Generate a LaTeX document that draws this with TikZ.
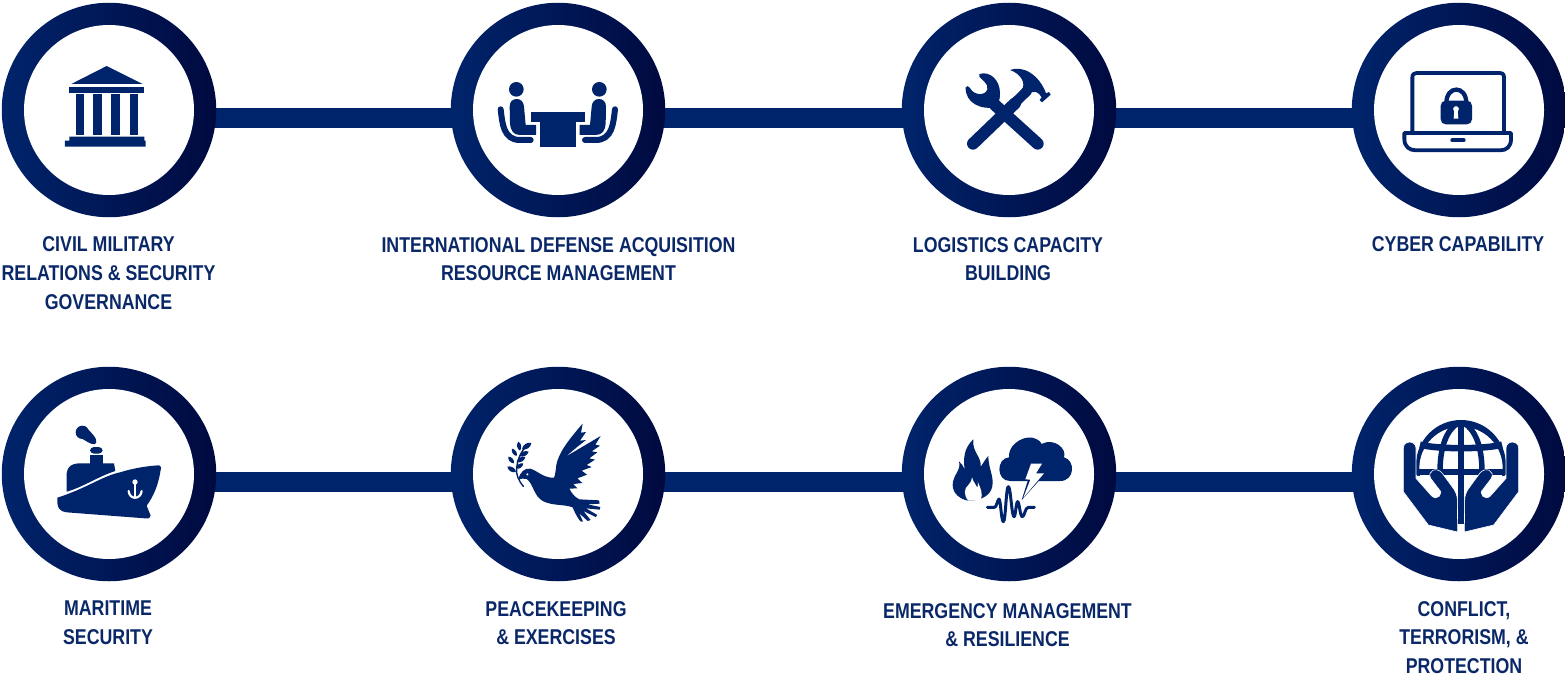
\documentclass[tikz,border=0pt]{standalone}
\usepackage{fontspec}
\setmainfont[FakeStretch=0.83,BoldFont={Liberation Sans Bold}]{Liberation Sans}
\usetikzlibrary{backgrounds,calc}
\definecolor{navy}{HTML}{00246B}
\definecolor{navydark}{HTML}{000A40}
\definecolor{labelnavy}{HTML}{0A2868}
\tikzset{
  ringouter/.style={circle,inner sep=0pt,minimum size=214.5pt,left color=navy,right color=navydark},
  ringinner/.style={circle,inner sep=0pt,minimum size=170pt,fill=white},
  link/.style={draw=navy,line width=19.5pt,shorten <=-4pt,shorten >=-4pt},
  lbl/.style={text=labelnavy,align=center,inner sep=0pt,font=\fontsize{21.4}{28.7}\selectfont\bfseries},
  stroke navy/.style={draw=navy,fill=none,line cap=round,line join=round},
  icon/.style={shift={#1},scale=1/3}
}
\newcommand{\leaflens}[4]{\fill[navy] (#1,#2) to[bend left=50] (#3,#4) to[bend left=50] (#1,#2) -- cycle;}
\begin{document}
\begin{tikzpicture}[x=1pt,y=-1pt]
\useasboundingbox (0,0) rectangle (1565,677);
% rings
\foreach \n/\px/\py in {a/109/110,b/558/110,c/1009/110,d/1459/110,e/109/474,f/558/474,g/1009/474,h/1459/474}{
  \node[ringouter] (\n) at (\px,\py) {};
  \node[ringinner] (\n i) at (\px,\py) {};
}
% connectors
\begin{scope}[on background layer]
\foreach \u/\v in {a/b,b/c,c/d,e/f,f/g,g/h}{
  \draw[link] ([yshift=-8pt]\u.east) -- ([yshift=-8pt]\v.west);
}
\end{scope}
% temple
\begin{scope}[icon={(0,0)}]
\fill[navy] (214,252) -- (320,198) -- (428,252) -- cycle;
\fill[navy] (208,262) rectangle (433,280);
\fill[navy] (228,283) rectangle (253,405);
\fill[navy] (278,283) rectangle (306,405);
\fill[navy] (332,283) rectangle (359,405);
\fill[navy] (389,283) rectangle (413,405);
\fill[navy] (208,410) -- (433,410) -- (433,422) -- (437,422) -- (437,440) -- (195,440) -- (195,422) -- (208,422) -- cycle;
\end{scope}
% meeting
\begin{scope}[icon={(470,60)}]
\fill[navy] (183,157) rectangle (345,185);
\fill[navy] (210,185) rectangle (318,260);
\foreach \m/\o in {1/0,-1/527}{
\begin{scope}[shift={(\o,0)},xscale=\m]
\fill[navy] (139,88) circle (22);
\fill[navy] (119,140) .. controls (119,125) and (128,117) .. (140,117) .. controls (152,117) and (161,125) .. (162,140) -- (167,195) -- (198,195) -- (198,225) -- (150,225) .. controls (130,225) and (122,212) .. (120,190) -- cycle;
\draw[stroke navy,line width=6pt] (92,148) .. controls (97,190) and (100,240) .. (150,240) -- (182,240);
\end{scope}
}
\end{scope}
% tools
\begin{scope}[icon={(940,50)}]
\draw[stroke navy,line width=12pt] (165,165) -- (293,281);
\draw[stroke navy,line width=12pt] (99,281) -- (225,160);
\draw[stroke navy,line width=10pt] (215,168) -- (262,122);
\fill[navy] (118,72) .. controls (150,62) and (180,90) .. (180,130) .. controls (180,150) and (175,165) .. (165,172) .. controls (125,180) and (75,160) .. (77,112) .. controls (80,106) and (86,108) .. (90,114) .. controls (100,135) and (135,140) .. (142,118) .. controls (146,100) and (125,90) .. (118,80) -- cycle;
\fill[navy] (210,60) .. controls (250,45) and (298,75) .. (318,130) -- (327,126) -- (332,134) -- (306,157) -- (299,150) -- (305,142) .. controls (295,125) and (282,118) .. (262,135) -- (243,122) .. controls (262,100) and (240,70) .. (210,60) -- cycle;
\end{scope}
% laptop
\begin{scope}[icon={(1390,55)}]
\draw[stroke navy,line width=3.8pt] (67,232) -- (67,68) .. controls (67,58) and (72,54) .. (80,54) -- (328,54) .. controls (338,54) and (342,58) .. (342,68) -- (342,232);
\draw[stroke navy,line width=3.8pt] (43,234) -- (363,234) -- (363,252) .. controls (363,275) and (350,286) .. (330,286) -- (78,286) .. controls (58,286) and (43,275) .. (43,252) -- cycle;
\draw[stroke navy,line width=4pt] (187,256) -- (221,256);
\draw[draw=navy,line width=4.3pt,fill=none] (169,145) .. controls (169,90) and (229,90) .. (229,145);
\fill[navy,rounded corners=5pt] (152,137) rectangle (246,208);
\fill[white] (198,162) circle (8.5);
\fill[white] (193,165) -- (203,165) -- (205,191) -- (191,191) -- cycle;
\end{scope}
% ship
\begin{scope}[icon={(40,415)}]
\fill[navy] (127,52) circle (20);
\fill[navy] (135,34) .. controls (150,50) and (172,68) .. (169,82) .. controls (166,94) and (150,86) .. (128,72) -- cycle;
\fill[navy,rounded corners=4pt] (150,96) -- (188,96) -- (188,116) -- (150,116) -- cycle;
\fill[navy] (150,121) rectangle (188,146);
\fill[navy] (80,230) -- (80,175) .. controls (82,155) and (95,146) .. (115,145) -- (222,145) -- (226,168) .. controls (175,184) and (130,216) .. (80,230) -- cycle;
\fill[navy] (52,248) .. controls (135,222) and (190,182) .. (240,172) .. controls (285,158) and (330,152) .. (358,151) .. controls (366,152) and (363,160) .. (361,170) .. controls (355,210) and (340,245) .. (320,272) -- (332,302) .. controls (332,310) and (325,311) .. (315,310) -- (80,292) .. controls (60,290) and (50,280) .. (52,248) -- cycle;
\draw[white,line width=2.2pt] (285,203) -- (285,245);
\fill[white] (285,201) circle (8);
\draw[white,line width=2.2pt,line cap=round] (266,228) .. controls (268,255) and (302,255) .. (305,228);
\end{scope}
% dove
\begin{scope}[icon={(490,410)}]
\fill[navy] (85,209) .. controls (90,185) and (105,174) .. (120,176) .. controls (140,180) and (160,205) .. (192,203) .. controls (196,195) and (197,180) .. (199,165) .. controls (205,130) and (235,90) .. (278,41) -- (273,68) -- (288,66) -- (270,92) -- (288,90) -- (260,112) -- (227,140) -- (332,78) -- (316,104) -- (330,107) -- (305,124) -- (322,127) -- (298,145) -- (315,149) -- (290,165) -- (305,171) -- (275,182) -- (291,194) -- (262,205) -- (277,219) -- (250,222) -- (262,235) -- (238,236) .. controls (245,250) and (255,262) .. (268,268) -- (327,271) -- (329,281) -- (292,283) -- (331,291) -- (329,299) -- (288,295) -- (322,315) -- (317,321) -- (280,303) -- (302,330) -- (293,333) -- (268,310) -- (279,335) -- (271,334) .. controls (260,320) and (252,302) .. (248,292) .. controls (220,282) and (190,288) .. (160,274) .. controls (130,258) and (130,220) .. (110,207) .. controls (100,204) and (92,206) .. (85,209) -- cycle;
\fill[white] (112,193) circle (3.5);
\draw[navy,line width=1.4pt,line cap=round] (100,229) .. controls (85,210) and (78,195) .. (80,175) .. controls (82,150) and (92,125) .. (110,108);
\leaflens{78}{186}{52}{170}
\leaflens{72}{160}{55}{140}
\leaflens{80}{138}{66}{116}
\leaflens{90}{122}{85}{95}
\leaflens{96}{118}{124}{99}
\leaflens{88}{138}{116}{125}
\leaflens{80}{156}{106}{141}
\leaflens{78}{176}{100}{160}
\end{scope}
% disaster
\begin{scope}[icon={(940,420)}]
\fill[navy] (100,58) .. controls (70,85) and (70,120) .. (74,148) .. controls (70,140) and (65,130) .. (57,124) .. controls (65,150) and (38,165) .. (38,195) .. controls (38,220) and (60,238) .. (85,242) .. controls (125,242) and (160,225) .. (158,185) .. controls (157,160) and (145,140) .. (145,108) .. controls (135,118) and (130,130) .. (122,140) .. controls (125,110) and (95,95) .. (100,58) -- cycle;
\fill[white] (85,242) .. controls (70,225) and (72,205) .. (85,195) .. controls (92,188) and (96,180) .. (96,172) .. controls (100,188) and (108,192) .. (112,203) .. controls (115,195) and (114,190) .. (113,185) .. controls (122,205) and (130,222) .. (122,240) -- cycle;
\fill[navy] (210,183) .. controls (168,183) and (168,115) .. (207,112) .. controls (203,62) and (282,30) .. (305,72) .. controls (340,52) and (382,85) .. (372,112) .. controls (406,120) and (406,183) .. (360,183) -- cycle;
\fill[navy] (245,240) -- (263,183) -- (296,183) -- cycle;
\fill[white] (273,131) -- (306,131) -- (288,160) -- (312,160) -- (250,233) -- (271,179) -- (256,178) -- cycle;
\draw[stroke navy,line width=3pt] (142,262) -- (163,262) .. controls (170,262) and (172,240) .. (177,237) .. controls (182,240) and (184,305) .. (190,305) .. controls (197,305) and (198,200) .. (205,200) .. controls (212,200) and (215,290) .. (222,290) .. controls (227,290) and (228,245) .. (233,245) .. controls (238,245) and (240,290) .. (247,290) .. controls (254,290) and (255,262) .. (265,262) -- (283,262);
\end{scope}
% globe hands
\begin{scope}[icon={(1390,410)}]
\begin{scope}
\clip (60,20) rectangle (366,196);
\fill[navy] (213,165) circle (135);
\fill[white] (213,175) circle (125);
\end{scope}
\fill[navy] (78,176) rectangle (348,196);
\fill[navy] (204,40) rectangle (222,342);
\draw[draw=navy,line width=6.5pt] (90,104) .. controls (140,118) and (286,118) .. (336,104);
\draw[draw=navy,line width=5.5pt] (203,40) .. controls (170,60) and (150,110) .. (150,185);
\draw[draw=navy,line width=5.5pt] (223,40) .. controls (256,60) and (276,110) .. (276,185);
\foreach \m/\o in {1/0,-1/426}{
\begin{scope}[shift={(\o,0)},xscale=\m]
\fill[navy,draw=white,line width=0.6pt] (40,115) .. controls (40,90) and (78,90) .. (78,115) -- (78,205) -- (125,258) .. controls (142,274) and (162,250) .. (147,238) -- (122,205) .. controls (110,183) and (140,168) .. (157,190) -- (192,238) .. controls (198,248) and (202,258) .. (202,270) -- (203,366) -- (115,345) -- (40,245) -- cycle;
\end{scope}
}
\end{scope}
% labels
\node[lbl] (la) at (108.5,273) {CIVIL MILITARY\\RELATIONS \& SECURITY\\GOVERNANCE};
\node[lbl] (lb) at (558.5,259) {INTERNATIONAL DEFENSE ACQUISITION\\RESOURCE MANAGEMENT};
\node[lbl] (lc) at (1008,259) {LOGISTICS CAPACITY\\BUILDING};
\node[lbl] (ld) at (1458,244.5) {CYBER CAPABILITY};
\node[lbl] (le) at (108,623) {MARITIME\\SECURITY};
\node[lbl] (lf) at (556,623) {PEACEKEEPING\\\& EXERCISES};
\node[lbl] (lg) at (1007.5,625) {EMERGENCY MANAGEMENT\\\& RESILIENCE};
\node[lbl] (lh) at (1464,637.5) {CONFLICT,\\TERRORISM, \&\\PROTECTION};
\end{tikzpicture}
\end{document}
